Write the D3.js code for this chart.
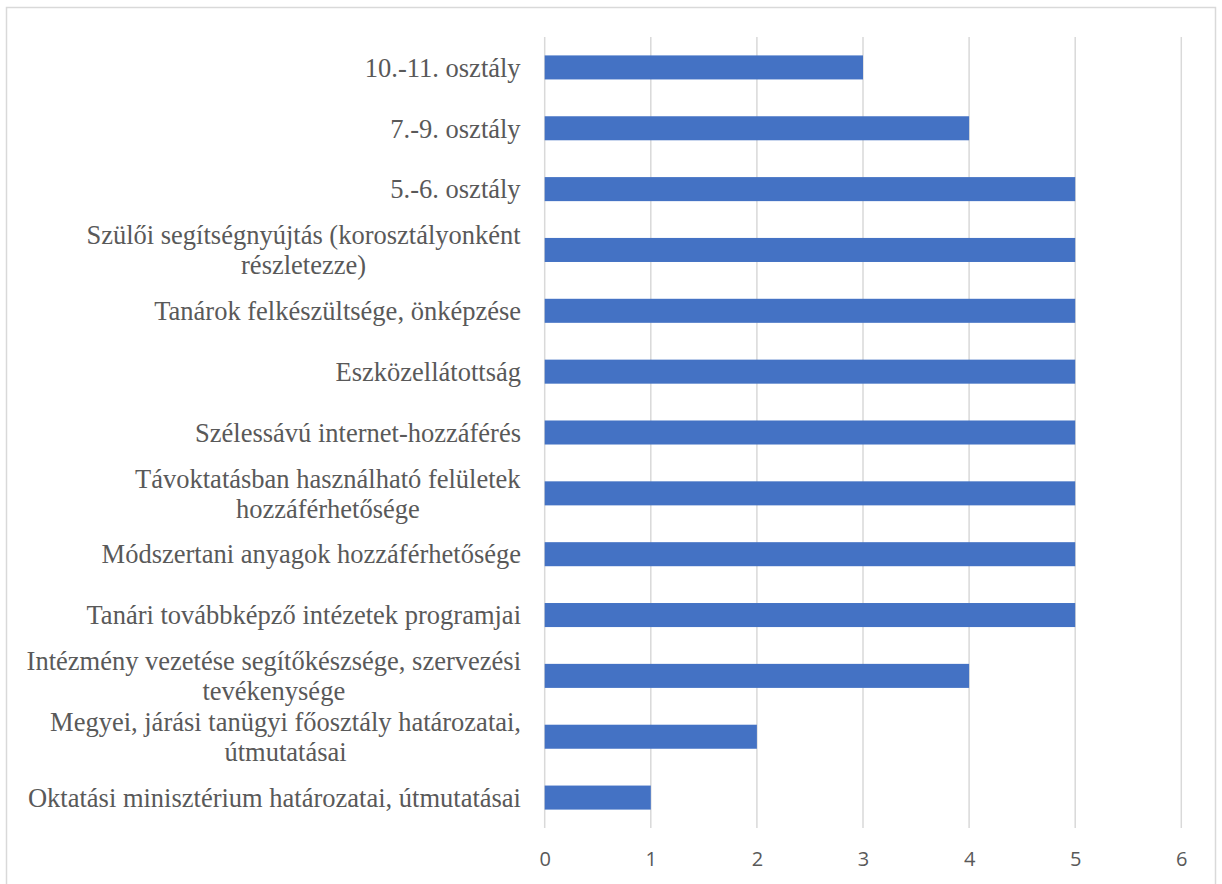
<!DOCTYPE html>
<html>
<head>
<meta charset="utf-8">
<script src="https://cdn.jsdelivr.net/npm/d3@7"></script>
<style>
  html, body { margin: 0; padding: 0; background: #fff; }
  svg { display: block; }
</style>
</head>
<body>
<svg id="chart" width="1222" height="884"></svg>
<script>
const categories = [
  "10.-11. osztály",
  "7.-9. osztály",
  "5.-6. osztály",
  "Szülői segítségnyújtás (korosztályonként\nrészletezze)",
  "Tanárok felkészültsége, önképzése",
  "Eszközellátottság",
  "Szélessávú internet-hozzáférés",
  "Távoktatásban használható felületek\nhozzáférhetősége",
  "Módszertani anyagok hozzáférhetősége",
  "Tanári továbbképző intézetek programjai",
  "Intézmény vezetése segítőkészsége, szervezési\ntevékenysége",
  "Megyei, járási tanügyi főosztály határozatai,\nútmutatásai",
  "Oktatási minisztérium határozatai, útmutatásai"
];
const values = [3, 4, 5, 5, 5, 5, 5, 5, 5, 5, 4, 2, 1];
const xTicks = [0, 1, 2, 3, 4, 5, 6];

(function () {
const svg = d3.select("#chart");

svg.append("rect")
  .attr("x", 6.5).attr("y", 7.5)
  .attr("width", 1209).attr("height", 900)
  .attr("fill", "#fff")
  .attr("stroke", "#d9d9d9").attr("stroke-width", 1.5);

const pLeft = 544.7, pRight = 1181.3, pTop = 37, pBottom = 828;

const x = d3.scaleLinear().domain([0, 6]).range([pLeft, pRight]);
const y = d3.scaleBand().domain(categories).range([pTop, pBottom]).paddingInner(0.605).paddingOuter(0.3025);

svg.append("g")
  .selectAll("line")
  .data(xTicks)
  .join("line")
  .attr("x1", d => x(d)).attr("x2", d => x(d))
  .attr("y1", pTop).attr("y2", pBottom)
  .attr("stroke", "#d9d9d9").attr("stroke-width", 1.5);

svg.append("g")
  .selectAll("rect")
  .data(values)
  .join("rect")
  .attr("x", x(0))
  .attr("y", (d, i) => y(categories[i]))
  .attr("width", d => x(d) - x(0))
  .attr("height", y.bandwidth())
  .attr("fill", "#4472C4");

const xAxis = d3.axisBottom(x).tickValues(xTicks).tickFormat(d3.format("d")).tickSize(0).tickPadding(0);
const gx = svg.append("g").attr("transform", `translate(0, ${pBottom})`).call(xAxis);
gx.select(".domain").remove();
gx.selectAll("text")
  .attr("y", 31)
  .attr("dy", "0.35em")
  .style("font-family", '"Open Sans", sans-serif')
  .style("font-size", "20px")
  .attr("fill", "#595959");

const labelRight = 521;
const fs = 26.5, lh = 30;

categories.forEach((c, i) => {
  const lines = c.split("\n");
  const cy = y(c) + y.bandwidth() / 2;
  const t = svg.append("text")
    .attr("y", cy)
    .attr("text-anchor", "middle")
    .attr("fill", "#595959")
    .style("font-family", '"Liberation Serif", "Times New Roman", serif')
    .style("font-size", fs + "px");
  lines.forEach((ln, j) => {
    t.append("tspan")
      .attr("x", 0)
      .attr("y", cy + (j - (lines.length - 1) / 2) * lh)
      .attr("dy", "0.35em")
      .text(ln);
  });
  const w = t.node().getBBox().width;
  t.selectAll("tspan").attr("x", labelRight - w / 2);
});
})();
</script>
</body>
</html>
